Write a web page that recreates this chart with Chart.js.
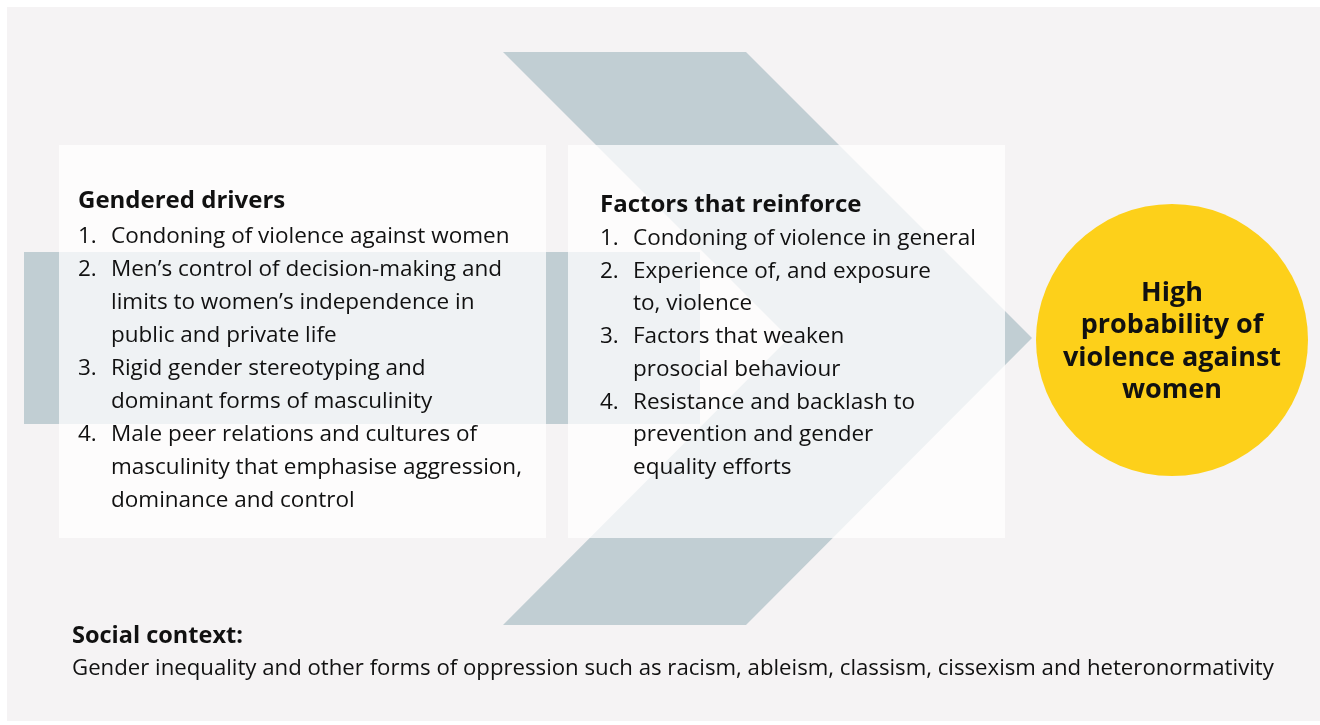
<!DOCTYPE html>
<html>
<head>
<meta charset="utf-8">
<script src="https://cdn.jsdelivr.net/npm/chart.js@4/dist/chart.umd.min.js"></script>
<style>
  html, body { margin: 0; padding: 0; background: #ffffff; }
  canvas { display: block; }
</style>
</head>
<body>
<canvas id="chart" width="1320" height="725"></canvas>
<script>
// diagram content
const driversTitle = 'Gendered drivers';
const driversItems = [
    ['Condoning of violence against women'],
    ['Men\u2019s control of decision-making and', 'limits to women\u2019s independence in', 'public and private life'],
    ['Rigid gender stereotyping and', 'dominant forms of masculinity'],
    ['Male peer relations and cultures of', 'masculinity that emphasise aggression,', 'dominance and control']
];
const factorsTitle = 'Factors that reinforce';
const factorsItems = [
    ['Condoning of violence in general'],
    ['Experience of, and exposure', 'to, violence'],
    ['Factors that weaken', 'prosocial behaviour'],
    ['Resistance and backlash to', 'prevention and gender', 'equality efforts']
];
const outcomeLines = ['High', 'probability of', 'violence against', 'women'];
const contextTitle = 'Social context:';
const contextText = 'Gender inequality and other forms of oppression such as racism, ableism, classism, cissexism and heteronormativity';

// shapes in the diagram's own units (x right, y down)
const panelShape = [[7, 7], [1320, 7], [1320, 721], [7, 721], [7, 7]];
const bandShape = [[24, 252], [700, 252], [700, 424], [24, 424], [24, 252]];
const chevronShape = [[503, 52], [746, 52], [1032, 338], [746, 625], [503, 625], [789, 338], [503, 52]];
const driversBox = [[59, 145], [546, 145], [546, 538], [59, 538], [59, 145]];
const factorsBox = [[568, 145], [1005, 145], [1005, 538], [568, 538], [568, 145]];
const outcomeCircle = [[1172, 340]];

const FONT = '"Open Sans", "Noto Sans", sans-serif';
const toPts = arr => arr.map(p => ({x: p[0], y: p[1]}));

const shapeSet = (pts, color) => ({
    data: toPts(pts),
    showLine: true,
    fill: 'shape',
    backgroundColor: color,
    borderColor: color,
    borderWidth: 0,
    pointRadius: 0,
    tension: 0
});

const textPlugin = {
    id: 'diagramText',
    afterDatasetsDraw(chart) {
        const ctx = chart.ctx;
        const sx = chart.scales.x, sy = chart.scales.y;
        const X = v => sx.getPixelForValue(v);
        const Y = v => sy.getPixelForValue(v);
        ctx.save();
        ctx.fillStyle = '#111111';
        ctx.textBaseline = 'alphabetic';

        const drawList = (title, items, x0, titleY, firstY, step) => {
            ctx.textAlign = 'left';
            ctx.font = 'bold 24px ' + FONT;
            ctx.fillText(title, X(x0), Y(titleY));
            ctx.font = '22.5px ' + FONT;
            let y = firstY;
            items.forEach((lines, i) => {
                ctx.fillText((i + 1) + '.', X(x0), Y(y));
                lines.forEach(line => {
                    ctx.fillText(line, X(x0 + 33), Y(y));
                    y += step;
                });
            });
        };
        drawList(driversTitle, driversItems, 78, 208, 243, 33);
        drawList(factorsTitle, factorsItems, 600, 212, 245, 32.7);

        ctx.textAlign = 'center';
        ctx.font = 'bold 27px ' + FONT;
        outcomeLines.forEach((line, i) => {
            ctx.fillText(line, X(1172), Y(301 + i * 32.3));
        });

        ctx.textAlign = 'left';
        ctx.font = 'bold 23.5px ' + FONT;
        ctx.fillText(contextTitle, X(72), Y(643));
        ctx.font = '22.2px ' + FONT;
        ctx.fillText(contextText, X(72), Y(675));
        ctx.restore();
    }
};

new Chart(document.getElementById('chart'), {
    type: 'scatter',
    data: {
        datasets: [
            // first dataset is drawn on top
            {
                data: toPts(outcomeCircle),
                backgroundColor: '#fdd01a',
                borderWidth: 0,
                pointRadius: 136,
                pointHoverRadius: 136
            },
            shapeSet(factorsBox, 'rgba(255,255,255,0.74)'),
            shapeSet(driversBox, 'rgba(255,255,255,0.74)'),
            shapeSet(chevronShape, '#c1ced3'),
            shapeSet(bandShape, '#c1ced3'),
            shapeSet(panelShape, '#f5f3f4')
        ]
    },
    options: {
        responsive: false,
        animation: false,
        devicePixelRatio: 1,
        events: [],
        layout: {padding: 0, autoPadding: false},
        scales: {
            x: {type: 'linear', min: 0, max: 1320, display: false},
            y: {type: 'linear', min: 0, max: 725, reverse: true, display: false}
        },
        plugins: {
            legend: {display: false},
            tooltip: {enabled: false},
            filler: {drawTime: 'beforeDatasetDraw'}
        }
    },
    plugins: [textPlugin]
});
</script>
</body>
</html>
